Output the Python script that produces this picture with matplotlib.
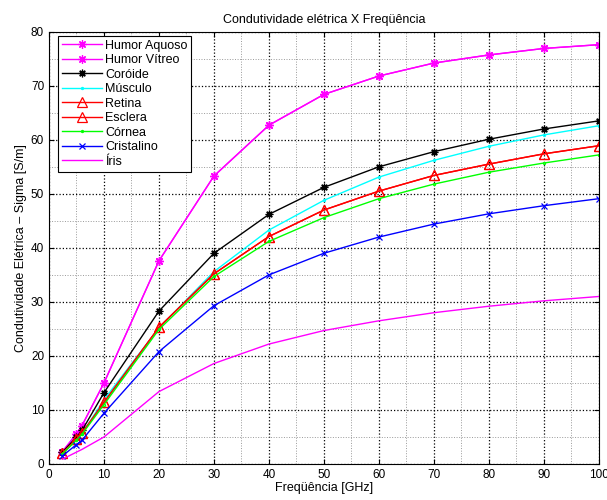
import numpy as np
from matplotlib import pyplot as plt
from matplotlib.ticker import MultipleLocator

plt.rcParams['font.family'] = ['Liberation Sans', 'DejaVu Sans']

freq = [2.45, 5, 6, 10, 20, 30, 40, 50, 60, 70, 80, 90, 100]

humor_aquoso = [2.3, 5.6, 7.1, 15.0, 37.6, 53.3, 62.7, 68.4, 71.8, 74.2, 75.7, 76.9, 77.6]
humor_vitreo = [2.3, 5.6, 7.1, 15.0, 37.6, 53.3, 62.7, 68.4, 71.8, 74.2, 75.7, 76.9, 77.6]
coroide = [2.2, 5.0, 6.2, 13.2, 28.3, 39.0, 46.2, 51.2, 55.0, 57.8, 60.1, 62.0, 63.5]
musculo = [1.9, 4.5, 5.6, 11.9, 25.2, 35.6, 43.3, 48.8, 53.1, 56.2, 58.8, 60.9, 62.6]
retina = [2.0, 4.6, 5.7, 11.4, 25.3, 35.2, 42.1, 47.0, 50.5, 53.4, 55.5, 57.4, 58.9]
esclera = [2.0, 4.6, 5.7, 11.4, 25.3, 35.2, 42.1, 47.0, 50.5, 53.4, 55.5, 57.4, 58.9]
cornea = [1.9, 4.4, 5.5, 11.0, 24.9, 34.7, 41.2, 45.6, 49.1, 51.8, 54.0, 55.7, 57.2]
cristalino = [1.5, 3.6, 4.4, 9.4, 20.8, 29.3, 35.0, 39.0, 42.0, 44.4, 46.3, 47.8, 49.1]
iris = [0.9, 2.2, 2.7, 5.0, 13.4, 18.6, 22.2, 24.7, 26.5, 28.0, 29.2, 30.2, 31.0]

series = [humor_aquoso, humor_vitreo, coroide, musculo, retina, esclera, cornea, cristalino, iris]
Legend = ['Humor Aquoso', 'Humor Vítreo', 'Coróide', 'Músculo', 'Retina',
          'Esclera', 'Córnea', 'Cristalino', 'Íris']
colors = ['#ff00ff', '#ff00ff', 'k', '#00ffff', 'r', 'r', '#00ff00', 'b', '#ff00ff']
markers = [(8, 2, 0), (8, 2, 0), (8, 2, 0), '.', '^', '^', '.', 'x', 'None']
msizes = [6, 6, 5.5, 3, 6.5, 6.5, 3, 4.5, 0]

fig = plt.figure(figsize=(6.07, 5.0), dpi=100)
ax = fig.add_axes([0.0807, 0.072, 0.906, 0.8646])

for y, c, m, ms, lab in zip(series, colors, markers, msizes, Legend):
    ax.plot(freq, y, color=c, marker=m, markersize=ms, mfc='none', mec=c,
            mew=0.9, linewidth=1.0, label=lab)

ax.set_xlim(0, 100)
ax.set_ylim(0, 80)
ax.xaxis.set_major_locator(MultipleLocator(10))
ax.yaxis.set_major_locator(MultipleLocator(10))
ax.xaxis.set_minor_locator(MultipleLocator(5))
ax.yaxis.set_minor_locator(MultipleLocator(5))
ax.grid(which='major', color='k', linestyle=':', linewidth=0.9)
ax.grid(which='minor', color='#999999', linestyle=':', linewidth=0.7)
ax.tick_params(which='both', direction='in', top=True, right=True, labelsize=8.5)
ax.tick_params(which='minor', length=0)

ax.set_title('Condutividade elétrica X Freqüência', fontsize=9)
ax.set_xlabel('Freqüência [GHz]', fontsize=9, labelpad=1)
ax.set_ylabel('Condutividade Elétrica – Sigma [S/m]', fontsize=9, labelpad=3)
leg = ax.legend(loc='upper left', bbox_to_anchor=(0.016, 0.99), fontsize=9,
                fancybox=False, framealpha=1, edgecolor='k', borderaxespad=0,
                handlelength=3.2, labelspacing=0.2, borderpad=0.3,
                handletextpad=0.3)
leg.get_frame().set_linewidth(0.8)

fig.savefig('out.png', dpi=100)
